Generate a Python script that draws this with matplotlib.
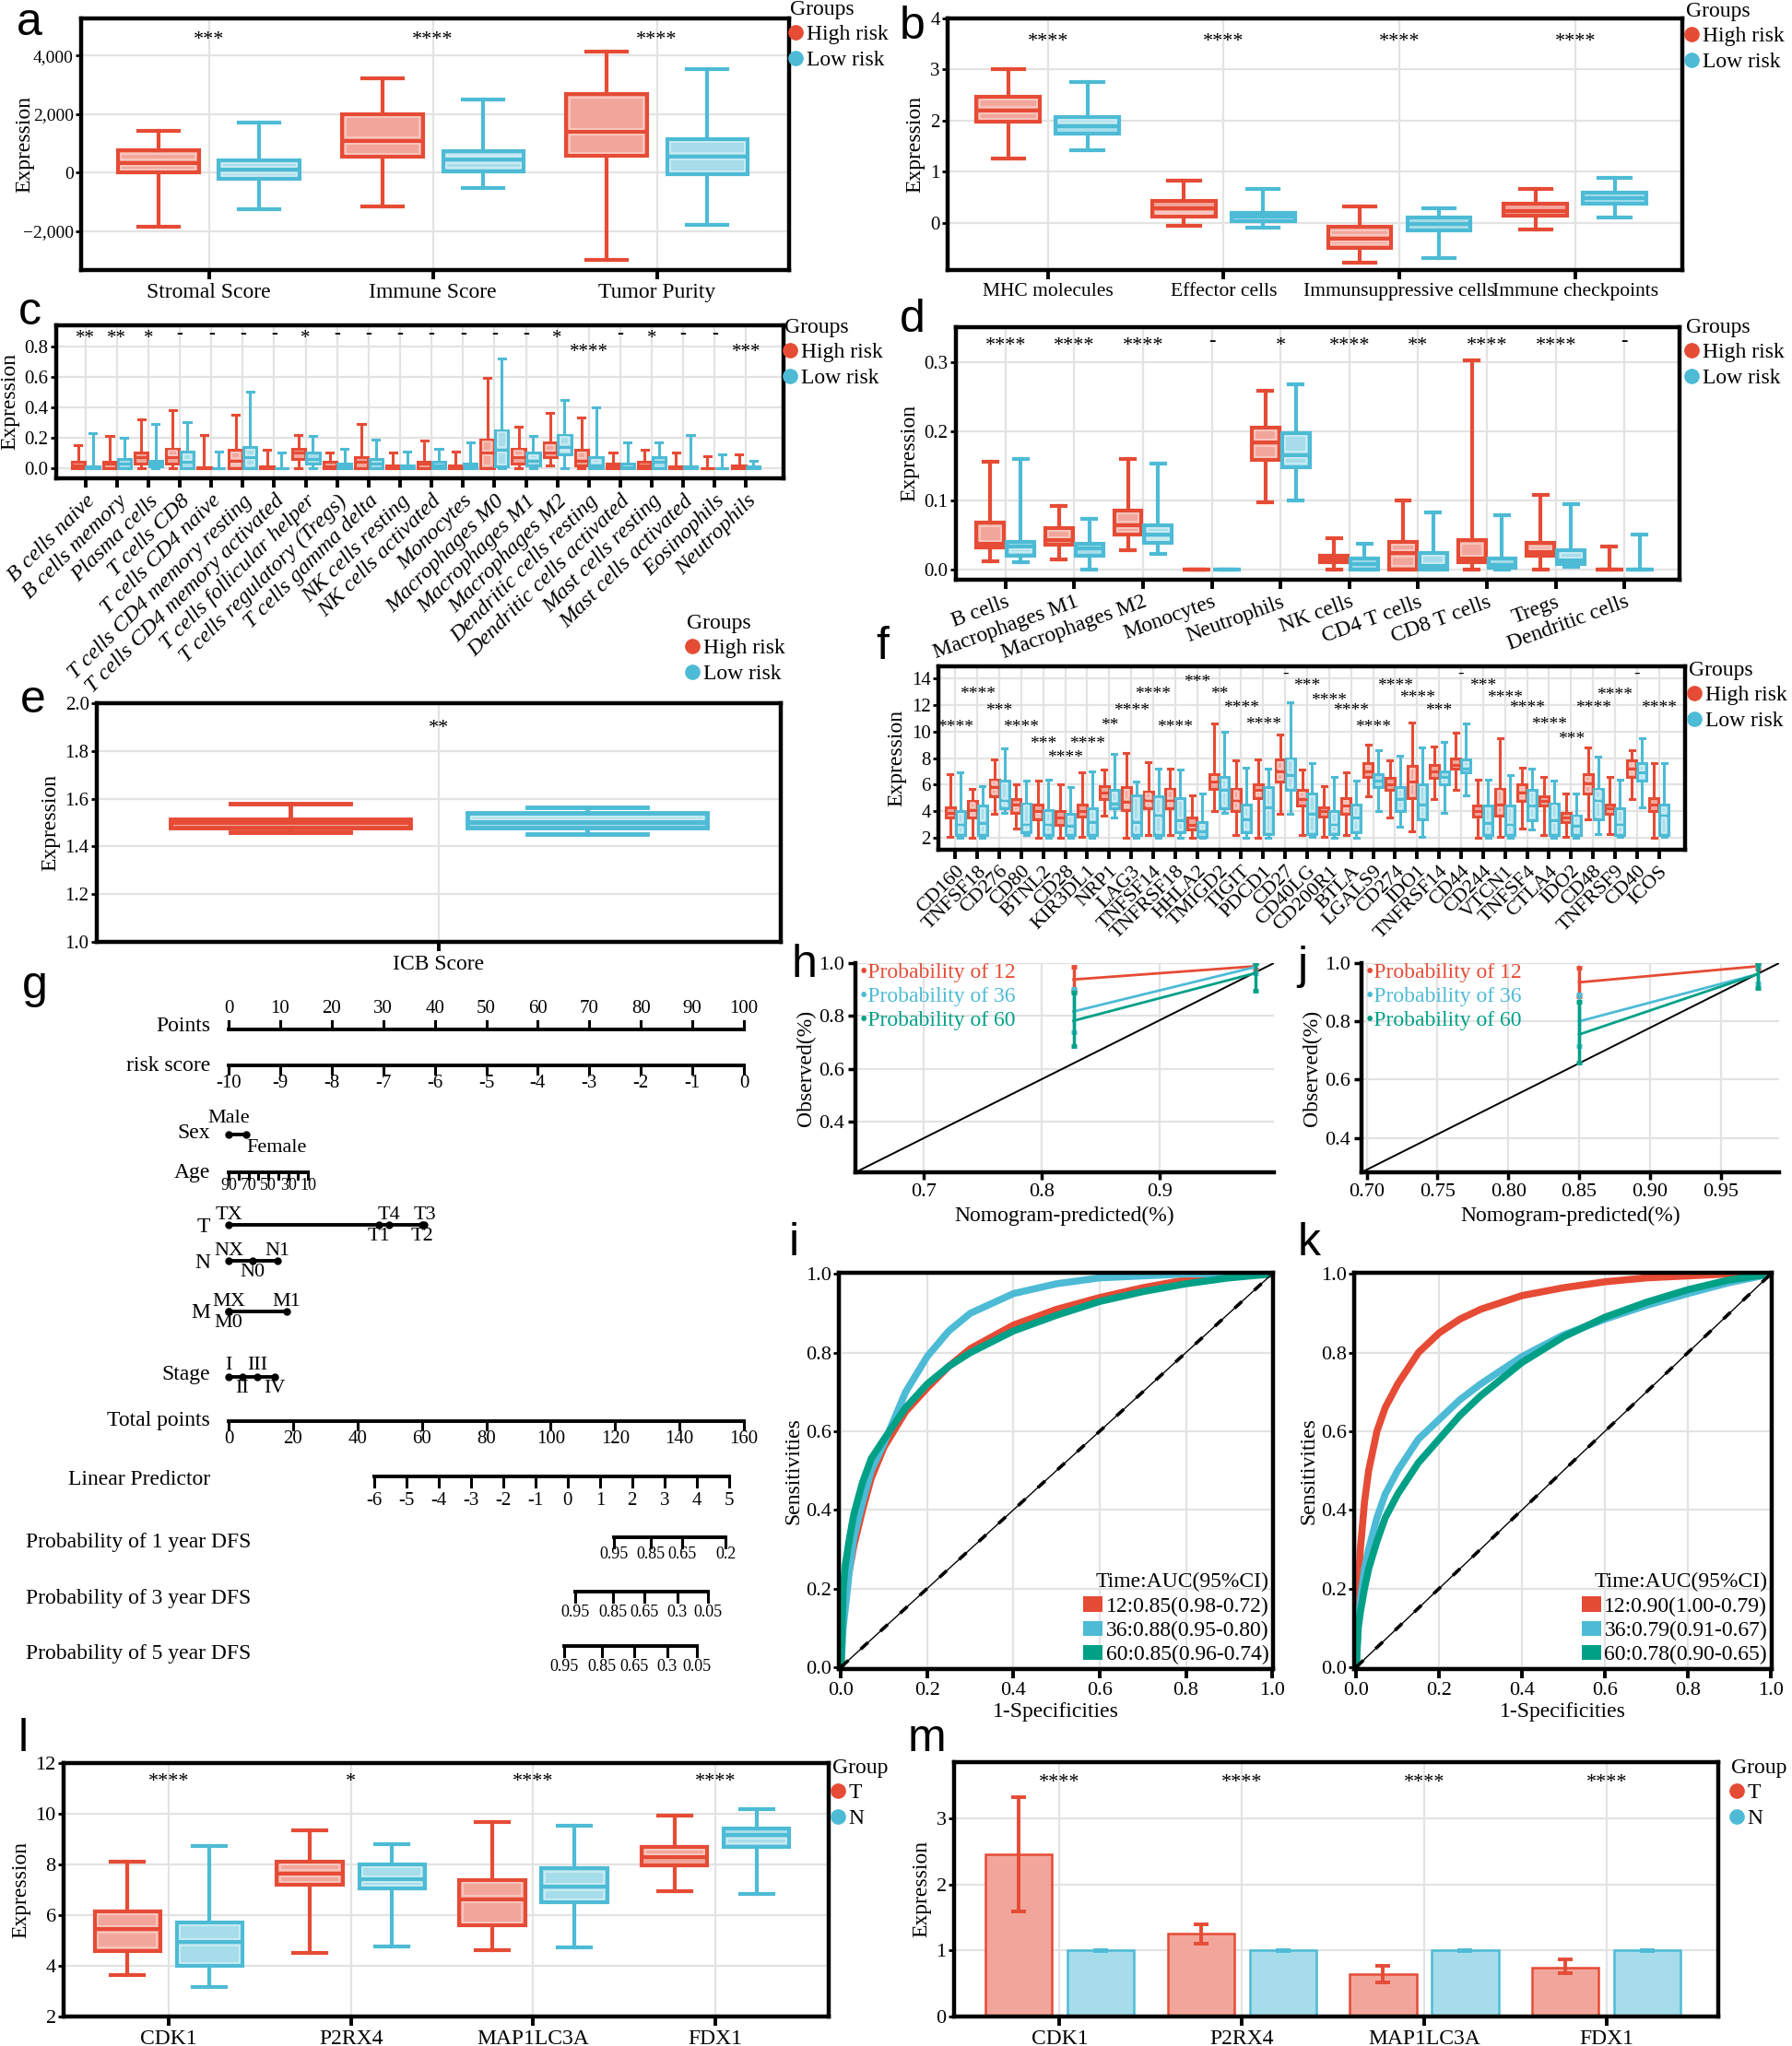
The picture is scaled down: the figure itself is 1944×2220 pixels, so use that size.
import numpy as np
import matplotlib.pyplot as plt
from matplotlib.lines import Line2D
from matplotlib.patches import Patch, Rectangle
from matplotlib.ticker import FuncFormatter

# ---------------- data ----------------
# box stats are (lower whisker, q1, median, q3, upper whisker)
a_cats = ['Stromal Score', 'Immune Score', 'Tumor Purity']
a_high = [(-1850, 0, 340, 760, 1430), (-1150, 550, 1100, 2010, 3230), (-2960, 580, 1400, 2680, 4140)]
a_low = [(-1230, -220, 100, 440, 1720), (-520, 60, 450, 730, 2500), (-1780, -50, 560, 1160, 3530)]
a_sig = ['***', '****', '****']

b_cats = ['MHC molecules', 'Effector cells', 'Immunsuppressive cells', 'Immune checkpoints']
b_high = [(1.26, 1.98, 2.2, 2.47, 3.0), (-0.05, 0.12, 0.28, 0.43, 0.82),
          (-0.77, -0.48, -0.3, -0.08, 0.33), (-0.12, 0.15, 0.24, 0.37, 0.66)]
b_low = [(1.43, 1.75, 1.9, 2.07, 2.75), (-0.09, 0.04, 0.12, 0.2, 0.67),
         (-0.68, -0.14, -0.02, 0.11, 0.28), (0.1, 0.38, 0.48, 0.6, 0.88)]
b_sig = ['****', '****', '****', '****']

c_cats = ['B cells naive', 'B cells memory', 'Plasma cells', 'T cells CD8', 'T cells CD4 naive',
          'T cells CD4 memory resting', 'T cells CD4 memory activated', 'T cells follicular helper',
          'T cells regulatory (Tregs)', 'T cells gamma delta', 'NK cells resting', 'NK cells activated',
          'Monocytes', 'Macrophages M0', 'Macrophages M1', 'Macrophages M2', 'Dendritic cells resting',
          'Dendritic cells activated', 'Mast cells resting', 'Mast cells activated', 'Eosinophils', 'Neutrophils']
c_high = [(0, 0, 0.02, 0.04, 0.15), (0, 0, 0.03, 0.04, 0.21), (0, 0.03, 0.07, 0.1, 0.32), (0, 0.03, 0.07, 0.13, 0.38),
          (0, 0, 0, 0.005, 0.22), (0, 0, 0.05, 0.12, 0.35), (0, 0, 0.005, 0.01, 0.12), (0, 0.06, 0.1, 0.13, 0.22),
          (0, 0, 0.01, 0.04, 0.1), (0, 0, 0.04, 0.07, 0.29), (0, 0, 0.005, 0.02, 0.1), (0, 0, 0.03, 0.04, 0.18),
          (0, 0, 0.005, 0.02, 0.11), (0, 0, 0.1, 0.19, 0.59), (0, 0.03, 0.07, 0.13, 0.27), (0.02, 0.07, 0.1, 0.17, 0.36),
          (0, 0.02, 0.05, 0.12, 0.33), (0, 0, 0.01, 0.03, 0.1), (0, 0, 0.02, 0.04, 0.12), (0, 0, 0.005, 0.01, 0.1),
          (0, 0, 0, 0.003, 0.08), (0, 0, 0.005, 0.02, 0.09)]
c_low = [(0, 0, 0, 0.01, 0.23), (0, 0, 0.03, 0.06, 0.2), (0, 0.01, 0.03, 0.05, 0.29), (0, 0, 0.04, 0.11, 0.3),
         (0, 0, 0, 0.003, 0.11), (0, 0, 0.07, 0.14, 0.5), (0, 0, 0, 0.003, 0.1), (0, 0.03, 0.06, 0.1, 0.21),
         (0, 0, 0.01, 0.03, 0.13), (0, 0, 0.03, 0.06, 0.19), (0, 0, 0.005, 0.02, 0.11), (0, 0, 0.02, 0.04, 0.13),
         (0, 0, 0.01, 0.03, 0.17), (0, 0.01, 0.12, 0.25, 0.72), (0, 0.02, 0.05, 0.1, 0.21), (0, 0.09, 0.14, 0.22, 0.45),
         (0, 0, 0.02, 0.07, 0.4), (0, 0, 0.005, 0.03, 0.17), (0, 0, 0.04, 0.07, 0.17), (0, 0, 0.005, 0.01, 0.22),
         (0, 0, 0, 0.003, 0.09), (0, 0, 0.005, 0.01, 0.05)]
c_sig = ['**', '**', '*', '-', '-', '-', '-', '*', '-', '-', '-', '-', '-', '-', '-', '*', '****', '-', '*', '-', '-', '***']
c_sig_y = [0.88] * 16 + [0.79] + [0.88] * 4 + [0.79]

d_cats = ['B cells', 'Macrophages M1', 'Macrophages M2', 'Monocytes', 'Neutrophils', 'NK cells',
          'CD4 T cells', 'CD8 T cells', 'Tregs', 'Dendritic cells']
d_high = [(0.011, 0.032, 0.037, 0.067, 0.155), (0.014, 0.036, 0.042, 0.06, 0.092), (0.028, 0.05, 0.064, 0.085, 0.16),
          (0, 0, 0, 0, 0), (0.097, 0.158, 0.183, 0.205, 0.258), (0, 0.01, 0.015, 0.019, 0.045),
          (0, 0, 0.023, 0.04, 0.1), (0, 0.01, 0.015, 0.042, 0.302), (0, 0.02, 0.025, 0.038, 0.107), (0, 0, 0, 0, 0.033)]
d_low = [(0.01, 0.02, 0.033, 0.04, 0.16), (0, 0.02, 0.03, 0.037, 0.073), (0.022, 0.038, 0.05, 0.064, 0.153),
         (0, 0, 0, 0, 0), (0.1, 0.148, 0.165, 0.197, 0.268), (0, 0, 0.008, 0.015, 0.037),
         (0, 0, 0.005, 0.024, 0.082), (0, 0.002, 0.006, 0.015, 0.078), (0.003, 0.008, 0.013, 0.028, 0.094), (0, 0, 0, 0, 0.05)]
d_sig = ['****', '****', '****', '-', '*', '****', '**', '****', '****', '-']

e_cats = ['ICB Score']
e_high = [(1.46, 1.48, 1.50, 1.515, 1.58)]
e_low = [(1.45, 1.48, 1.50, 1.54, 1.565)]
e_sig = ['**']

f_cats = ['CD160', 'TNFSF18', 'CD276', 'CD80', 'BTNL2', 'CD28', 'KIR3DL1', 'NRP1', 'LAG3', 'TNFSF14', 'TNFRSF18',
          'HHLA2', 'TMIGD2', 'TIGIT', 'PDCD1', 'CD27', 'CD40LG', 'CD200R1', 'BTLA', 'LGALS9', 'CD274', 'IDO1',
          'TNFRSF14', 'CD44', 'CD244', 'VTCN1', 'TNFSF4', 'CTLA4', 'IDO2', 'CD48', 'TNFRSF9', 'CD40', 'ICOS']
f_high = [(2.1, 3.5, 3.9, 4.3, 6.8), (2.0, 3.5, 4.1, 4.8, 5.7), (3.8, 5.1, 5.8, 6.4, 7.9), (2.7, 3.9, 4.5, 4.9, 6.0),
          (2.0, 3.4, 4.0, 4.5, 6.3), (2.0, 3.0, 3.5, 4.0, 6.0), (2.1, 3.6, 4.0, 4.5, 6.9), (3.7, 4.9, 5.4, 5.9, 7.1),
          (2.0, 4.1, 4.7, 5.8, 8.4), (2.2, 4.2, 4.8, 5.5, 7.7), (2.2, 4.2, 4.8, 5.7, 7.2), (2.0, 2.6, 3.0, 3.5, 5.2),
          (4.0, 5.7, 6.2, 6.8, 10.6), (2.2, 4.0, 4.8, 5.7, 7.8), (2.0, 5.0, 5.6, 6.0, 7.9), (3.8, 6.2, 7.0, 7.9, 9.8),
          (2.2, 4.4, 4.9, 5.6, 7.1), (2.1, 3.6, 4.0, 4.3, 5.9), (2.2, 3.8, 4.4, 5.0, 6.9), (5.1, 6.6, 7.0, 7.6, 9.0),
          (3.5, 5.6, 6.0, 6.5, 7.8), (2.5, 5.0, 6.2, 7.4, 10.7), (4.9, 6.5, 7.0, 7.5, 8.9), (5.6, 7.2, 7.5, 8.0, 9.9),
          (2.0, 3.6, 4.0, 4.4, 6.4), (2.1, 3.7, 4.5, 5.7, 9.5), (2.7, 4.8, 5.4, 6.0, 7.3), (2.2, 4.4, 4.8, 5.1, 6.6),
          (2.1, 3.2, 3.5, 3.9, 5.3), (3.4, 5.3, 6.1, 6.8, 8.8), (2.3, 3.8, 4.2, 4.5, 6.6), (4.9, 6.6, 7.2, 7.8, 8.6),
          (2.0, 4.0, 4.5, 5.0, 7.6)]
f_low = [(2.0, 2.2, 3.0, 4.0, 6.9), (2.0, 2.2, 3.1, 4.4, 5.9), (3.9, 4.2, 4.8, 6.3, 8.7), (2.2, 2.4, 3.0, 4.6, 6.3),
         (2.0, 2.2, 3.0, 4.1, 6.4), (2.0, 2.2, 2.9, 3.8, 5.8), (2.0, 2.2, 3.2, 4.2, 7.0), (3.5, 4.2, 4.6, 5.6, 8.3),
         (2.0, 2.2, 3.2, 5.2, 6.2), (2.0, 2.2, 3.7, 5.1, 7.2), (2.0, 2.4, 3.3, 5.0, 7.1), (2.0, 2.1, 2.5, 3.2, 5.3),
         (3.9, 4.2, 5.6, 6.6, 10.0), (2.0, 2.4, 3.4, 4.5, 7.3), (2.0, 2.3, 4.3, 5.8, 7.2), (3.8, 5.6, 6.7, 8.0, 12.2),
         (2.1, 2.3, 3.8, 5.3, 7.6), (2.0, 2.3, 3.0, 4.0, 6.6), (2.0, 2.4, 3.5, 4.5, 6.3), (4.0, 5.8, 6.3, 6.8, 8.6),
         (2.8, 4.0, 4.9, 5.8, 8.2), (2.1, 3.4, 4.5, 6.0, 8.8), (3.9, 6.0, 6.6, 7.0, 9.2), (5.2, 6.9, 7.2, 7.9, 10.6),
         (2.0, 2.2, 3.1, 4.4, 6.4), (2.0, 2.2, 3.0, 4.4, 6.7), (2.6, 3.3, 4.4, 5.6, 7.2), (2.0, 2.2, 3.3, 4.6, 6.3),
         (2.0, 2.2, 2.9, 3.7, 5.3), (2.3, 3.4, 4.8, 5.7, 8.1), (2.1, 2.2, 3.0, 4.2, 6.4), (4.3, 6.3, 6.9, 7.6, 9.5),
         (2.1, 2.2, 3.7, 4.5, 7.6)]
f_sig = ['****', '****', '***', '****', '***', '****', '****', '**', '****', '****', '****', '***', '**', '****',
         '****', '-', '***', '****', '****', '****', '****', '****', '***', '-', '***', '****', '****', '****',
         '***', '****', '****', '-', '****']
f_sig_y = [10.7, 13.2, 11.9, 10.7, 9.4, 8.4, 9.4, 10.8, 11.9, 13.2, 10.7, 14.1, 13.2, 12.1, 10.9, 14.3, 13.8,
           12.7, 11.9, 10.7, 13.8, 12.9, 11.9, 14.3, 13.8, 12.9, 12.1, 10.9, 9.8, 12.1, 13.1, 14.3, 12.1]

# nomogram (g): positions on the 0-100 "Points" scale
points_vals = [0, 10, 20, 30, 40, 50, 60, 70, 80, 90, 100]
risk_vals = ['-10', '-9', '-8', '-7', '-6', '-5', '-4', '-3', '-2', '-1', '0']
sex_labels = ['Male', 'Female']
sex_pts = [0, 3.4]
age_labels = ['90', '', '70', '', '50', '', '30', '', '10']
age_pts = [0, 1.9, 3.9, 5.8, 7.7, 9.6, 11.6, 13.5, 15.4]
t_labels = ['TX', 'T1', 'T4', 'T2', 'T3']
t_pts = [0, 29.2, 31.1, 37.6, 38.0]
n_labels = ['NX', 'N0', 'N1']
n_pts = [0, 4.6, 9.5]
m_labels = ['MX', 'M0', 'M1']
m_pts = [0, 0, 11.3]
stage_labels = ['I', 'II', 'III', 'IV']
stage_pts = [0, 2.7, 5.6, 8.9]
total_vals = [0, 20, 40, 60, 80, 100, 120, 140, 160]
lp_labels = ['-6', '-5', '-4', '-3', '-2', '-1', '0', '1', '2', '3', '4', '5']
lp_pts = [28.2, 34.5, 40.7, 47.0, 53.3, 59.5, 65.8, 72.1, 78.3, 84.6, 90.9, 97.2]
p1_labels = ['0.95', '0.85', '0.65', '0.2']
p1_pts = [74.8, 82.0, 88.1, 96.5]
p3_labels = ['0.95', '0.85', '0.65', '0.3', '0.05']
p3_pts = [67.3, 74.6, 80.7, 87.1, 93.0]
p5_labels = ['0.95', '0.85', '0.65', '0.3', '0.05']
p5_pts = [65.2, 72.4, 78.7, 85.1, 90.8]

# calibration (h, j): predicted x, observed y, error limits
h_x = [0.827, 0.981]
h_12, h_12_lo, h_12_hi = [0.938, 0.988], [0.895, 0.975], [0.985, 1.0]
h_36, h_36_lo, h_36_hi = [0.817, 0.985], [0.739, 0.96], [0.901, 1.0]
h_60, h_60_lo, h_60_hi = [0.782, 0.962], [0.687, 0.896], [0.89, 1.0]
j_x = [0.85, 0.976]
j_12, j_12_lo, j_12_hi = [0.934, 0.989], [0.885, 0.98], [0.985, 1.0]
j_36, j_36_lo, j_36_hi = [0.80, 0.962], [0.716, 0.93], [0.892, 0.99]
j_60, j_60_lo, j_60_hi = [0.755, 0.962], [0.658, 0.916], [0.866, 1.0]

# ROC (i, k)
roc_fpr = [0, 0.005, 0.01, 0.02, 0.03, 0.05, 0.07, 0.1, 0.15, 0.2, 0.25, 0.3, 0.4, 0.5, 0.6, 0.7, 0.8, 0.9, 1.0]
i_tpr_12 = [0, 0.15, 0.2, 0.25, 0.31, 0.4, 0.48, 0.56, 0.65, 0.71, 0.765, 0.81, 0.87, 0.91, 0.94, 0.965, 0.985, 0.995, 1.0]
i_tpr_36 = [0, 0.1, 0.15, 0.25, 0.33, 0.42, 0.5, 0.57, 0.7, 0.79, 0.855, 0.9, 0.95, 0.975, 0.99, 0.995, 1.0, 1.0, 1.0]
i_tpr_60 = [0, 0.2, 0.26, 0.33, 0.39, 0.47, 0.53, 0.58, 0.66, 0.72, 0.765, 0.8, 0.855, 0.895, 0.93, 0.955, 0.975, 0.99, 1.0]
i_auc = ['12:0.85(0.98-0.72)', '36:0.88(0.95-0.80)', '60:0.85(0.96-0.74)']
k_tpr_12 = [0, 0.2, 0.3, 0.42, 0.5, 0.6, 0.66, 0.72, 0.8, 0.85, 0.885, 0.91, 0.945, 0.965, 0.98, 0.99, 0.995, 1.0, 1.0]
k_tpr_36 = [0, 0.12, 0.17, 0.25, 0.3, 0.38, 0.44, 0.5, 0.58, 0.63, 0.68, 0.72, 0.79, 0.845, 0.885, 0.92, 0.95, 0.978, 1.0]
k_tpr_60 = [0, 0.1, 0.14, 0.2, 0.25, 0.32, 0.38, 0.44, 0.52, 0.58, 0.64, 0.69, 0.775, 0.84, 0.89, 0.928, 0.96, 0.985, 1.0]
k_auc = ['12:0.90(1.00-0.79)', '36:0.79(0.91-0.67)', '60:0.78(0.90-0.65)']

# l, m
l_cats = ['CDK1', 'P2RX4', 'MAP1LC3A', 'FDX1']
l_t = [(3.65, 4.6, 5.45, 6.15, 8.1), (4.5, 7.2, 7.65, 8.12, 9.33), (4.63, 5.6, 6.63, 7.4, 9.68), (6.93, 7.98, 8.28, 8.7, 9.93)]
l_n = [(3.18, 4.0, 4.93, 5.72, 8.73), (4.76, 7.05, 7.42, 8.0, 8.8), (4.73, 6.5, 7.12, 7.84, 9.53), (6.85, 8.7, 9.15, 9.43, 10.2)]
l_sig = ['****', '*', '****', '****']
m_t = [2.46, 1.25, 0.64, 0.74]
m_t_lo = [1.59, 1.1, 0.51, 0.65]
m_t_hi = [3.32, 1.4, 0.77, 0.86]
m_n = [1.0, 1.0, 1.0, 1.0]
m_n_lo = [0.99, 0.99, 0.99, 0.99]
m_n_hi = [1.01, 1.01, 1.01, 1.01]
m_sig = ['****', '****', '****', '****']

# ---------------- style ----------------
W, H = 1944, 2220
RED, BLUE, GREEN = '#E64B35', '#4DBBD5', '#00A087'
RED_L, BLUE_L = '#F2A69B', '#A7DDEA'
RED_S, BLUE_S = '#F9CFC8', '#D2EEF5'   # light inner stripe of the boxes
GRID = '#E3E3E3'

plt.rcParams['font.family'] = ['Liberation Serif', 'DejaVu Serif']
plt.rcParams['axes.unicode_minus'] = True

fig = plt.figure(figsize=(W / 100, H / 100), dpi=100)


def rect(l, t, r, b):
    return [l / W, 1 - b / H, (r - l) / W, (b - t) / H]


def frame(ax, lw=3.2):
    for s in ax.spines.values():
        s.set_linewidth(lw)
    ax.grid(True, color=GRID, lw=1.6)
    ax.set_axisbelow(True)
    ax.tick_params(axis='x', length=7, width=2.8, labelsize=17, pad=3)
    ax.tick_params(axis='y', length=4, width=2, labelsize=15, pad=2)


def boxes(ax, high, low, off, width, lw):
    # limits must already be set: the inner stripe is inset by a few pixels
    x0, x1 = ax.get_xlim()
    y0, y1 = ax.get_ylim()
    inset = lw * 100 / 72 / 2 + 1.3
    dx = inset * (x1 - x0) / ax.bbox.width
    dy = inset * (y1 - y0) / ax.bbox.height
    for stats, sign, col, fill, stripe in ((high, -1, RED, RED_L, RED_S), (low, 1, BLUE, BLUE_L, BLUE_S)):
        pos = np.arange(len(stats)) + sign * off
        bx = [dict(whislo=s[0], q1=s[1], med=s[2], q3=s[3], whishi=s[4], fliers=[]) for s in stats]
        ax.bxp(bx, positions=pos, widths=width, capwidths=width * 0.5, patch_artist=True,
               showfliers=False, manage_ticks=False,
               boxprops=dict(facecolor=fill, edgecolor=col, linewidth=lw),
               medianprops=dict(color=col, linewidth=lw, solid_capstyle='butt'),
               whiskerprops=dict(color=col, linewidth=lw),
               capprops=dict(color=col, linewidth=lw))
        for p, s in zip(pos, stats):
            for lo, hi in ((s[1], s[2]), (s[2], s[3])):
                if hi - lo > 2 * dy + 0.6 * dy:
                    ax.add_patch(Rectangle((p - width / 2 + dx, lo + dy), width - 2 * dx, hi - lo - 2 * dy,
                                           fill=False, edgecolor=stripe, lw=1.1, zorder=2.5))


def sig(ax, ys, labels, size=15):
    for x, (y, s) in enumerate(zip(ys, labels)):
        ax.annotate(s, (x, y), xytext=(0, -4 if '*' in s else 0), textcoords='offset points',
                    ha='center', va='center', fontsize=size)


def group_legend(ax, x, y, title='Groups', labels=('High risk', 'Low risk')):
    handles = [Line2D([], [], ls='none', marker='o', ms=11, color=c) for c in (RED, BLUE)]
    ax.legend(handles, labels, title=title, loc='upper left', bbox_to_anchor=(x / W, 1 - y / H),
              bbox_transform=fig.transFigure, frameon=False, fontsize=17, title_fontsize=17,
              handlelength=0.5, handletextpad=0.25, borderpad=0, borderaxespad=0,
              labelspacing=0.25, alignment='left')


def letter(x, y, s):
    fig.text(x / W, 1 - y / H, s, fontsize=36, family='Liberation Sans', va='baseline')


def cat_axes(ax, cats, xlim, ylim, **kw):
    ax.set_xlim(*xlim)
    ax.set_ylim(*ylim)
    ax.set_xticks(range(len(cats)))
    ax.set_xticklabels(cats, **kw)
    ax.set_ylabel('Expression', fontsize=17, labelpad=4)


# ---------------- a ----------------
ax = fig.add_axes(rect(88, 20, 856, 293))
frame(ax)
ax.tick_params(axis='y', labelsize=14)
cat_axes(ax, a_cats, (-0.57, 2.59), (-3320, 5270))
boxes(ax, a_high, a_low, 0.225, 0.36, 3)
ax.yaxis.set_label_coords(-0.066, 0.5)
ax.set_yticks([-2000, 0, 2000, 4000])
ax.yaxis.set_major_formatter(FuncFormatter(lambda v, p: f'{v:,.0f}'.replace('-', '\u2212')))
sig(ax, [4720] * 3, a_sig, 16)
group_legend(ax, 857, 0)
letter(18, 38, 'a')

# ---------------- b ----------------
ax = fig.add_axes(rect(1028, 20, 1825, 293))
frame(ax)
ax.tick_params(axis='x', labelsize=15.5)
cat_axes(ax, b_cats, (-0.57, 3.61), (-0.92, 4.0))
boxes(ax, b_high, b_low, 0.225, 0.36, 3)
ax.set_yticks([0, 1, 2, 3, 4])
sig(ax, [3.64] * 4, b_sig, 16)
group_legend(ax, 1829, 2)
letter(976, 42, 'b')

# ---------------- c ----------------
ax = fig.add_axes(rect(61, 353, 850, 519))
frame(ax)
ax.tick_params(axis='x', labelsize=17.5)
cat_axes(ax, c_cats, (-0.93, 22.19), (-0.066, 0.936),
         rotation=45, ha='right', rotation_mode='anchor', style='italic')
boxes(ax, c_high, c_low, 0.23, 0.42, 2.2)
ax.set_yticks([0, 0.2, 0.4, 0.6, 0.8])
ax.yaxis.set_major_formatter(FuncFormatter(lambda v, p: f'{v:.1f}'))
sig(ax, c_sig_y, c_sig, 15)
group_legend(ax, 851, 345)
letter(20, 352, 'c')

# ---------------- d ----------------
ax = fig.add_axes(rect(1037, 355, 1822, 629))
frame(ax)
cat_axes(ax, d_cats, (-0.72, 9.8), (-0.015, 0.35), rotation=20, ha='right', rotation_mode='anchor')
boxes(ax, d_high, d_low, 0.22, 0.4, 3)
ax.set_yticks([0, 0.1, 0.2, 0.3])
ax.yaxis.set_major_formatter(FuncFormatter(lambda v, p: f'{v:.1f}'))
sig(ax, [0.33] * 10, d_sig, 16)
group_legend(ax, 1829, 345)
letter(976, 360, 'd')

# ---------------- e ----------------
ax = fig.add_axes(rect(105, 763, 847, 1022))
frame(ax)
cat_axes(ax, e_cats, (-0.5, 0.5), (1.0, 2.0))
boxes(ax, e_high, e_low, 0.217, 0.35, 3.5)
ax.set_yticks([1.0, 1.2, 1.4, 1.6, 1.8, 2.0])
ax.yaxis.set_major_formatter(FuncFormatter(lambda v, p: f'{v:.1f}'))
sig(ax, [1.915], e_sig, 16)
group_legend(ax, 745, 666)
letter(22, 773, 'e')

# ---------------- f ----------------
ax = fig.add_axes(rect(1018, 723, 1828, 922))
frame(ax)
ax.tick_params(axis='x', labelsize=16)
cat_axes(ax, f_cats, (-0.77, 33.19), (1.1, 14.9), rotation=45, ha='right', rotation_mode='anchor')
boxes(ax, f_high, f_low, 0.23, 0.42, 2.2)
ax.set_yticks([2, 4, 6, 8, 10, 12, 14])
sig(ax, f_sig_y, f_sig, 14)
group_legend(ax, 1832, 717)
letter(950, 715, 'f')

# ---------------- g: nomogram ----------------
axg = fig.add_axes(rect(0, 1060, 880, 1830))
axg.axis('off')
PX, X0 = 5.59, 248
axg.set_xlim(-X0 / PX, (880 - X0) / PX)
axg.set_ylim(1830, 1060)


def scale_row(y, pts, labels, up=False, size=15, tick=9, gap=3):
    axg.plot([pts[0], pts[-1]], [y, y], color='k', lw=2.8, solid_capstyle='projecting')
    for p, s in zip(pts, labels):
        axg.plot([p, p], [y, y - tick if up else y + tick], color='k', lw=2.2)
        if up:
            axg.text(p, y - tick - gap, s, ha='center', va='bottom', fontsize=size)
        else:
            axg.text(p, y + tick + gap - 2, s, ha='center', va='top', fontsize=size)


def cat_row(y, pts, labels, sides, size=16, up_gap=1, down_gap=3):
    axg.plot([min(pts), max(pts)], [y, y], color='k', lw=2.8)
    axg.plot(pts, [y] * len(pts), 'o', color='k', ms=5)
    for p, s, side in zip(pts, labels, sides):
        if side == 'up':
            axg.text(p, y - up_gap, s, ha='center', va='bottom', fontsize=size)
        elif side == 'left':
            axg.text(p, y + down_gap, s, ha='left', va='top', fontsize=size)
        else:
            axg.text(p, y + down_gap, s, ha='center', va='top', fontsize=size)


def row_label(y, s, x=-3.6, ha='right'):
    axg.text(x, y, s, ha=ha, va='center', fontsize=17)


scale_row(1117, points_vals, [str(v) for v in points_vals], up=True, gap=4)
row_label(1113, 'Points')
scale_row(1156, [v for v in points_vals], risk_vals)
row_label(1156, 'risk score')
cat_row(1231, sex_pts, sex_labels, ['up', 'left'], up_gap=8, down_gap=5)
row_label(1229, 'Sex')
scale_row(1272, age_pts, age_labels, size=13, tick=7, gap=1)
row_label(1272, 'Age')
cat_row(1329, t_pts, t_labels, ['up', 'down', 'up', 'down', 'up'])
row_label(1331, 'T')
cat_row(1368, n_pts, n_labels, ['up', 'down', 'up'])
row_label(1370, 'N')
cat_row(1423, m_pts, m_labels, ['up', 'down', 'up'])
row_label(1424, 'M')
cat_row(1494, stage_pts, stage_labels, ['up', 'down', 'up', 'down'], up_gap=3)
row_label(1491, 'Stage')
scale_row(1542, [v * 100 / total_vals[-1] for v in total_vals], [str(v) for v in total_vals])
row_label(1541, 'Total points')
scale_row(1602, lp_pts, lp_labels, tick=11, gap=8)
row_label(1605, 'Linear Predictor')
scale_row(1668, p1_pts, p1_labels, size=13, tick=11, gap=1)
row_label(1673, 'Probability of 1 year DFS', x=(28 - X0) / PX, ha='left')
scale_row(1727, p3_pts, p3_labels, size=13, tick=11, gap=5)
row_label(1734, 'Probability of 3 year DFS', x=(28 - X0) / PX, ha='left')
scale_row(1786, p5_pts, p5_labels, size=13, tick=11, gap=5)
row_label(1794, 'Probability of 5 year DFS', x=(28 - X0) / PX, ha='left')
letter(24, 1083, 'g')


# ---------------- h, j: calibration ----------------
def calib(ax, xs, series, xlim, ylim, xticks, xfmt):
    ax.set_xlim(*xlim)
    ax.set_ylim(*ylim)
    ax.grid(True, color=GRID, lw=1.6)
    ax.set_axisbelow(True)
    ax.spines[['top', 'right']].set_visible(False)
    ax.spines[['left', 'bottom']].set_linewidth(3.2)
    ax.plot([0, 1], [0, 1], transform=ax.transAxes, color='k', lw=1.4)
    for y, lo, hi, col in series:
        ax.plot(xs, y, color=col, lw=2)
        ax.errorbar(xs, y, yerr=[np.subtract(y, lo), np.subtract(hi, y)], fmt='none', ecolor=col,
                    elinewidth=2.5, capsize=2.5, capthick=3.5)
    ax.set_xticks(xticks)
    ax.xaxis.set_major_formatter(FuncFormatter(lambda v, p: xfmt.format(v)))
    ax.set_yticks([0.4, 0.6, 0.8, 1.0])
    ax.yaxis.set_major_formatter(FuncFormatter(lambda v, p: f'{v:.1f}'))
    ax.tick_params(axis='both', length=6, width=2.5, labelsize=16, pad=3)
    ax.set_xlabel('Nomogram-predicted(%)', fontsize=17, labelpad=4)
    ax.set_ylabel('Observed(%)', fontsize=17, labelpad=2)
    for k, (s, col) in enumerate(zip(['12', '36', '60'], [RED, BLUE, GREEN])):
        ax.text(0.012, 0.952 - 0.114 * k, '\u2022Probability of ' + s, color=col, fontsize=17,
                transform=ax.transAxes, ha='left', va='center')


ax = fig.add_axes(rect(928, 1045, 1382, 1272))
calib(ax, h_x, [(h_12, h_12_lo, h_12_hi, RED), (h_36, h_36_lo, h_36_hi, BLUE), (h_60, h_60_lo, h_60_hi, GREEN)],
      (0.642, 0.997), (0.209, 1.0), [0.7, 0.8, 0.9], '{:.1f}')
letter(858, 1060, 'h')

ax = fig.add_axes(rect(1477, 1045, 1930, 1272))
calib(ax, j_x, [(j_12, j_12_lo, j_12_hi, RED), (j_36, j_36_lo, j_36_hi, BLUE), (j_60, j_60_lo, j_60_hi, GREEN)],
      (0.6963, 0.9913), (0.282, 1.0), [0.70, 0.75, 0.80, 0.85, 0.90, 0.95], '{:.2f}')
letter(1407, 1062, 'j')


# ---------------- i, k: ROC ----------------
def roc(ax, curves, labels):
    frame(ax)
    ax.tick_params(axis='both', labelsize=16)
    for tpr, col in zip(curves, (RED, BLUE, GREEN)):
        ax.plot(roc_fpr, tpr, color=col, lw=5.5, solid_joinstyle='round')
    ax.plot([0, 1], [0, 1], color='k', lw=1.0)
    ax.plot([0, 1], [0, 1], color='k', lw=2.6, ls=(0, (3, 5)))
    ax.set_xlim(-0.005, 1.002)
    ax.set_ylim(-0.005, 1.003)
    ticks = [0, 0.2, 0.4, 0.6, 0.8, 1.0]
    ax.set_xticks(ticks)
    ax.set_yticks(ticks)
    fmt = FuncFormatter(lambda v, p: f'{v:.1f}')
    ax.xaxis.set_major_formatter(fmt)
    ax.yaxis.set_major_formatter(fmt)
    ax.set_xlabel('1-Specificities', fontsize=17, labelpad=2)
    ax.set_ylabel('Sensitivities', fontsize=17, labelpad=2)
    handles = [Patch(facecolor=c) for c in (RED, BLUE, GREEN)]
    ax.legend(handles, labels, title='Time:AUC(95%CI)', loc='lower right', frameon=False, fontsize=17,
              title_fontsize=17, handlelength=0.9, handleheight=0.7, handletextpad=0.15,
              borderaxespad=0.1, borderpad=0.1, labelspacing=0.2, alignment='right')


ax = fig.add_axes(rect(910, 1381, 1381, 1811))
roc(ax, [i_tpr_12, i_tpr_36, i_tpr_60], i_auc)
letter(856, 1362, 'i')

ax = fig.add_axes(rect(1469, 1381, 1922, 1811))
roc(ax, [k_tpr_12, k_tpr_36, k_tpr_60], k_auc)
letter(1408, 1362, 'k')

# ---------------- l ----------------
ax = fig.add_axes(rect(69, 1913, 899, 2188))
frame(ax)
ax.tick_params(axis='y', labelsize=16)
cat_axes(ax, l_cats, (-0.575, 3.62), (2, 12))
boxes(ax, l_t, l_n, 0.225, 0.36, 3)
ax.set_yticks([2, 4, 6, 8, 10, 12])
sig(ax, [11.45] * 4, l_sig, 16)
group_legend(ax, 903, 1908, title='Group', labels=('T', 'N'))
letter(20, 1900, 'l')

# ---------------- m ----------------
ax = fig.add_axes(rect(1035, 1912, 1864, 2188))
frame(ax)
ax.tick_params(axis='y', labelsize=16)
cat_axes(ax, l_cats, (-0.578, 3.613), (0, 3.85))
pos = np.arange(len(l_cats))
for vals, lo, hi, sign, col, fill in ((m_t, m_t_lo, m_t_hi, -1, RED, RED_L), (m_n, m_n_lo, m_n_hi, 1, BLUE, BLUE_L)):
    x = pos + sign * 0.225
    ax.bar(x, vals, width=0.365, color=fill, edgecolor=col, lw=1.8, zorder=2)
    ax.errorbar(x, vals, yerr=[np.subtract(vals, lo), np.subtract(hi, vals)], fmt='none', ecolor=col,
                elinewidth=2.8, capsize=6, capthick=2.8, zorder=3)
ax.set_yticks([0, 1, 2, 3])
sig(ax, [3.62] * 4, m_sig, 16)
group_legend(ax, 1878, 1908, title='Group', labels=('T', 'N'))
letter(985, 1900, 'm')

fig.savefig('out.png', dpi=100)
